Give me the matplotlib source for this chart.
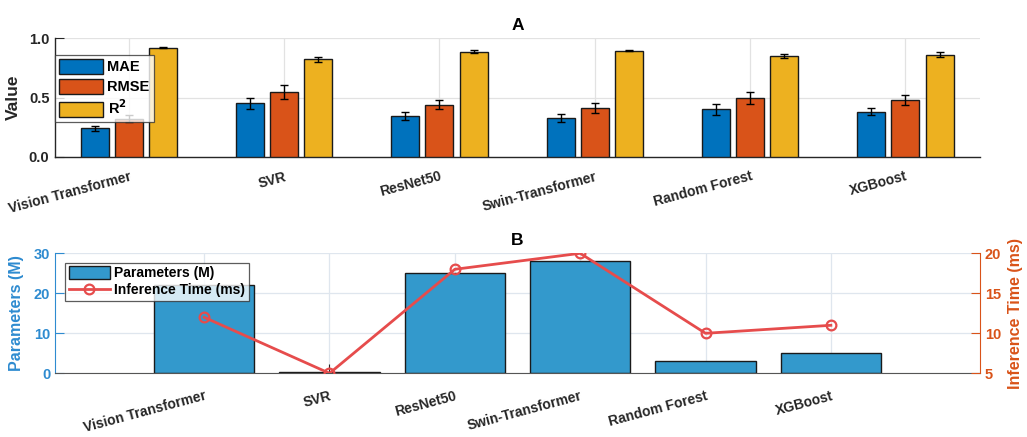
import numpy as np
import matplotlib
matplotlib.use("Agg")
import matplotlib.pyplot as plt

plt.rcParams['font.family'] = ['Liberation Sans', 'DejaVu Sans']
plt.rcParams['font.weight'] = 'bold'

models = ["Vision Transformer", "SVR", "ResNet50", "Swin-Transformer", "Random Forest", "XGBoost"]
mae = [0.24, 0.45, 0.345, 0.33, 0.40, 0.38]
mae_err = [0.02, 0.05, 0.035, 0.035, 0.047, 0.03]
rmse = [0.32, 0.545, 0.44, 0.415, 0.495, 0.478]
rmse_err = [0.03, 0.06, 0.04, 0.042, 0.052, 0.042]
r2 = [0.92, 0.82, 0.885, 0.893, 0.848, 0.86]
r2_err = [0.005, 0.02, 0.013, 0.005, 0.02, 0.02]
params_m = [22, 0.3, 25, 28, 3, 5]
inf_ms = [12, 5, 18, 20, 10, 11]

c_mae, c_rmse, c_r2 = '#0072BD', '#D95319', '#EDB120'
c_bar = '#3399CC'
c_line = '#E64C4C'
c_left = '#2E8BD0'
c_right = '#D95319'
tick_gray = '#262626'

fig = plt.figure(figsize=(10.27, 4.37), dpi=100)
W, H = 1027, 437

def ax_rect(l, r, t, b):
    return [l / W, 1 - b / H, (r - l) / W, (b - t) / H]

# ---------- Panel A ----------
axA = fig.add_axes(ax_rect(55, 980, 38, 157))
x = np.arange(1, len(models) + 1)
bw = 0.18
off = 0.22
ekw = dict(ecolor='black', elinewidth=1.0, capsize=3.0, capthick=1.0)
axA.bar(x - off, mae, bw, yerr=mae_err, color=c_mae, edgecolor='#1a1a1a', linewidth=1.0, error_kw=ekw, label='MAE', zorder=3)
axA.bar(x, rmse, bw, yerr=rmse_err, color=c_rmse, edgecolor='#1a1a1a', linewidth=1.0, error_kw=ekw, label='RMSE', zorder=3)
axA.bar(x + off, r2, bw, yerr=r2_err, color=c_r2, edgecolor='#1a1a1a', linewidth=1.0, error_kw=ekw, label='R$^2$', zorder=3)
axA.set_xlim(0.525, 6.48)
axA.set_ylim(0, 1.0)
axA.set_yticks([0, 0.5, 1.0])
axA.set_yticklabels(['0.0', '0.5', '1.0'])
axA.set_xticks(x)
axA.set_xticklabels(models, rotation=15, ha='right', va='top', rotation_mode='anchor')
axA.grid(True, color='#e2e2e2', linewidth=0.9, zorder=0)
axA.set_axisbelow(True)
for s in ['top', 'right']:
    axA.spines[s].set_visible(False)
for s in ['left', 'bottom']:
    axA.spines[s].set_color(tick_gray)
    axA.spines[s].set_linewidth(1.0)
axA.tick_params(direction='in', length=6.5, width=0.8, colors=tick_gray, labelsize=10.5, pad=4)
axA.tick_params(axis='x', pad=9, labelsize=10)
axA.set_ylabel('Value', fontsize=12.5, fontweight='bold', color=tick_gray, labelpad=6)
axA.set_title('A', fontsize=12.5, fontweight='bold', pad=6)
legA = axA.legend(loc='upper left', bbox_to_anchor=(0.0, 0.86), fontsize=10.5, frameon=True, fancybox=False,
                  edgecolor='#333333', handlelength=3.0, handleheight=1.2, borderpad=0.3,
                  labelspacing=0.3, handletextpad=0.3, borderaxespad=0.0)
legA.get_frame().set_linewidth(0.9)
for t in legA.get_texts():
    t.set_fontweight('bold')

# ---------- Panel B ----------
axB = fig.add_axes(ax_rect(55, 980, 253.3, 373.3))
bars = axB.bar(x, params_m, 0.8, color=c_bar, edgecolor='#1a1a1a', linewidth=1.0, label='Parameters (M)', zorder=2)
axB.set_xlim(-0.19, 7.19)
axB.set_ylim(0, 30)
axB.set_yticks([0, 10, 20, 30])
axB.set_xticks(x)
axB.set_xticklabels(models, rotation=15, ha='right', va='top', rotation_mode='anchor')
axB.grid(True, color='#dfe6ee', linewidth=0.9, zorder=0)
axB.set_axisbelow(True)
axB.spines['top'].set_visible(False)
axB.spines['right'].set_visible(False)
axB.spines['left'].set_color(c_left)
axB.spines['bottom'].set_color('#555555')
axB.tick_params(axis='y', direction='in', length=6.5, width=0.8, colors=c_left, labelsize=10.5)
axB.tick_params(axis='x', direction='in', length=6.5, width=0.8, colors=tick_gray, labelsize=10, pad=11)
axB.set_ylabel('Parameters (M)', fontsize=11.5, fontweight='bold', color=c_left, labelpad=7)
axB.set_title('B', fontsize=12.5, fontweight='bold', pad=6)

axB2 = axB.twinx()
ln, = axB2.plot(x, inf_ms, color=c_line, linewidth=2.0, marker='o', markersize=7,
                markerfacecolor='none', markeredgewidth=1.6, label='Inference Time (ms)', zorder=4)
axB2.set_ylim(5, 20)
axB2.set_yticks([5, 10, 15, 20])
for s in ['top', 'left', 'bottom']:
    axB2.spines[s].set_visible(False)
axB2.spines['right'].set_color(c_right)
axB2.tick_params(axis='y', direction='in', length=6.5, width=0.8, colors=c_right, labelsize=10.5)
axB2.set_ylabel('Inference Time (ms)', fontsize=11.5, fontweight='bold', color=c_right, labelpad=5)

legB = axB2.legend([bars, ln], ['Parameters (M)', 'Inference Time (ms)'], loc='upper left',
                   bbox_to_anchor=(0.011, 0.92), fontsize=10, frameon=True, fancybox=False,
                   edgecolor='#333333', handlelength=3.0, handleheight=1.0, borderpad=0.25,
                   labelspacing=0.2, handletextpad=0.3, borderaxespad=0.0)
legB.get_frame().set_linewidth(0.9)

for lab in axA.get_xticklabels() + axB.get_xticklabels():
    lab.set_fontweight('bold')
for lab in axA.get_yticklabels() + axB.get_yticklabels() + axB2.get_yticklabels():
    lab.set_fontweight('bold')

fig.savefig('out.png', dpi=100)
